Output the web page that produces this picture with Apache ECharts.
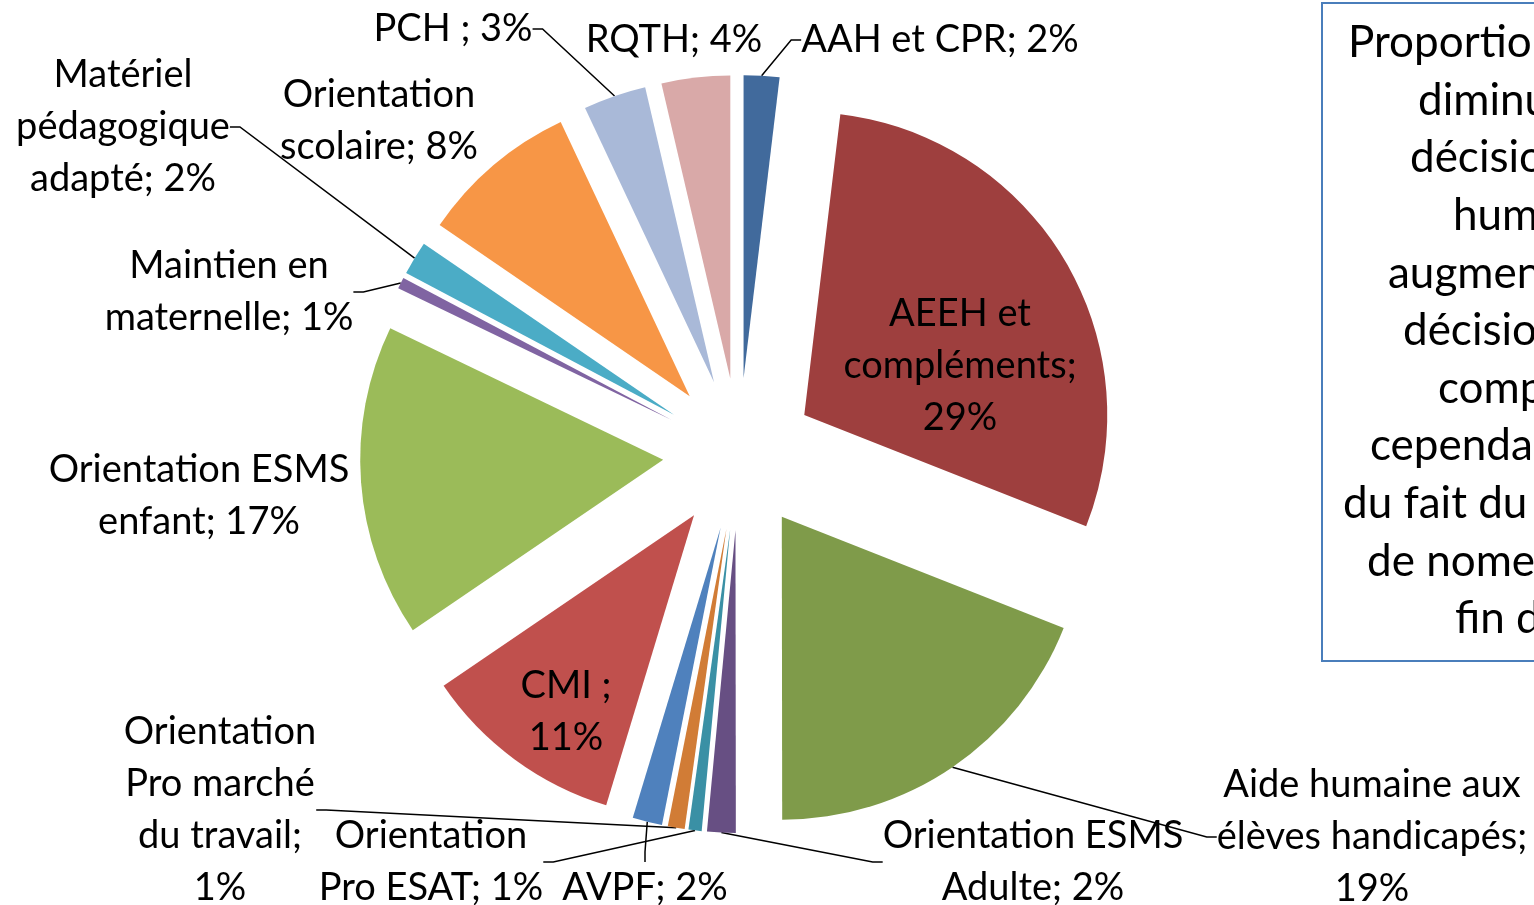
<!DOCTYPE html>
<html>
<head>
<meta charset="utf-8">
<script src="https://cdn.jsdelivr.net/npm/echarts@6/dist/echarts.min.js"></script>
<style>
  html, body { margin: 0; padding: 0; background: #fff; }
  #chart { width: 1534px; height: 905px; }
</style>
</head>
<body>
<div id="chart"></div>
<script>
// clockwise from 12 o'clock
var categories = ['AAH et CPR', 'AEEH et\ncompléments', 'Aide humaine aux\nélèves handicapés',
  'Orientation ESMS\nAdulte', 'Orientation\nPro ESAT', 'Orientation\nPro marché\ndu travail', 'AVPF',
  'CMI ', 'Orientation ESMS\nenfant', 'Maintien en\nmaternelle', 'Matériel\npédagogique\nadapté',
  'Orientation\nscolaire', 'PCH ', 'RQTH'];
var values = [1.9, 29.07, 19.0, 1.52, 0.7, 0.9, 1.58, 10.8, 16.66, 0.6, 1.8, 8.45, 3.35, 3.65];
var colors = ['#416A9C', '#9E3F3E', '#7F9B4A', '#674F83', '#3A90A5', '#D17C36', '#4F81BD',
  '#C0504D', '#9BBB59', '#8064A2', '#4BACC6', '#F79646', '#A9B9D8', '#D9A9A8'];
var pctOwnLine = [1, 2, 5, 7];   // percent goes on its own line
var noLeader = [1, 7, 8, 11, 13]; // labels drawn without leader line

// label anchor (centre of text block)
var labelPos = [[940, 40], [960, 366], [1372, 837], [1033, 862], [431, 862], [220, 810], [645, 888],
  [566, 712], [199, 496], [229, 292], [123, 127], [379, 121], [453, 29], [674, 40]];

var total = values.reduce(function (a, b) { return a + b; }, 0);
var pieCenter = [739, 454];
var pieRadius = 303;
var explode = 76;

// exploded slices
var sliceData = categories.map(function (c, i) {
  return { name: c, value: values[i], selected: true, itemStyle: { color: colors[i] } };
});
// same slices, invisible, only carrying the labels
var labelData = categories.map(function (c, i) {
  return { name: c, value: values[i], labelLine: { show: noLeader.indexOf(i) < 0 } };
});

var boxLines = ['Proportion de', 'diminution', 'décisions', 'humaine', 'augmentation', 'décisions',
  'compléments', 'cependant', 'du fait du', 'de nomenclature', 'fin de'];
var boxX = [1348, 1418, 1410, 1453, 1388, 1403, 1438, 1370, 1343, 1367, 1455];

var graphics = [{
  type: 'rect',
  shape: { x: 1322, y: 3, width: 260, height: 658 },
  style: { fill: 'none', stroke: '#4A7EBB', lineWidth: 2 }
}];
boxLines.forEach(function (t, i) {
  graphics.push({
    type: 'text',
    x: boxX[i],
    y: 43 + i * 57.6,
    style: { text: t, fill: '#000', font: '44px Lato', verticalAlign: 'middle', align: 'left' }
  });
});

var myChart = echarts.init(document.getElementById('chart'));
var option = {
  animation: false,
  graphic: graphics,
  series: [{
    type: 'pie',
    center: pieCenter,
    radius: pieRadius,
    startAngle: 90,
    clockwise: true,
    selectedMode: 'multiple',
    selectedOffset: explode,
    silent: true,
    emphasis: { disabled: true },
    label: { show: false },
    labelLine: { show: false },
    data: sliceData
  }, {
    type: 'pie',
    center: pieCenter,
    radius: pieRadius + explode,
    startAngle: 90,
    clockwise: true,
    silent: true,
    avoidLabelOverlap: false,
    emphasis: { disabled: true },
    itemStyle: { color: 'rgba(0,0,0,0)' },
    label: {
      show: true,
      position: 'outside',
      color: '#000',
      fontFamily: 'Lato',
      fontSize: 38,
      lineHeight: 52,
      align: 'center',
      formatter: function (p) {
        var pct = Math.round(p.value / total * 100);
        var sep = pctOwnLine.indexOf(p.dataIndex) >= 0 ? ';\n' : '; ';
        return p.name + sep + pct + '%';
      }
    },
    labelLine: {
      show: true,
      length: 10,
      length2: 10,
      lineStyle: { color: '#000', width: 1.5 }
    },
    labelLayout: function (params) {
      var p = labelPos[params.dataIndex];
      return { x: p[0], y: p[1], align: 'center', verticalAlign: 'middle' };
    },
    data: labelData
  }]
};
myChart.setOption(option);
</script>
</body>
</html>
